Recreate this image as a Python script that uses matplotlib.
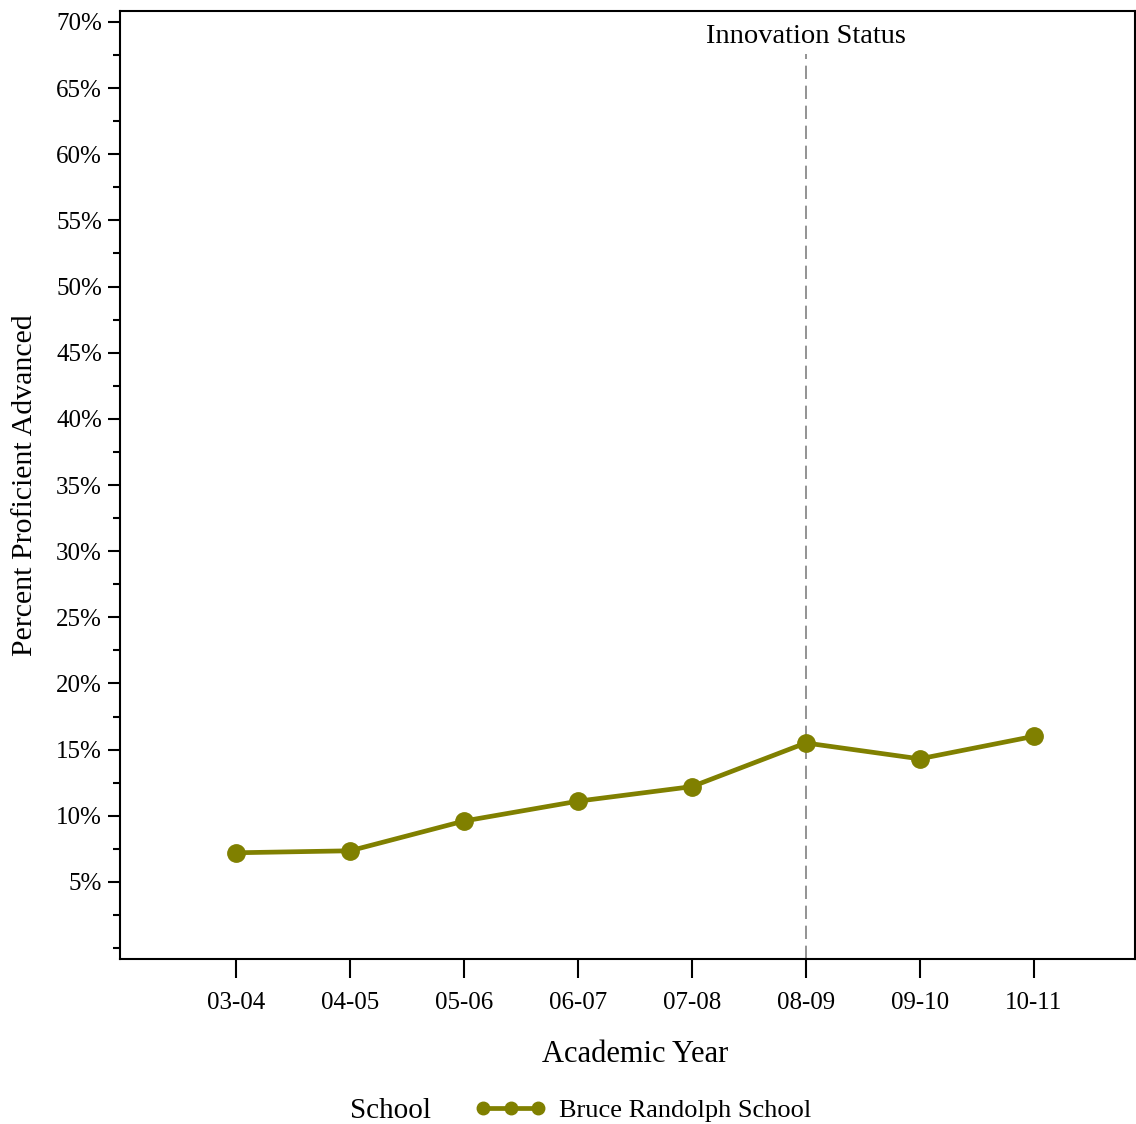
import matplotlib.pyplot as plt
from matplotlib.ticker import FixedLocator, FuncFormatter
from matplotlib.lines import Line2D

plt.rcParams['font.family'] = ['Liberation Serif', 'DejaVu Serif']

years = ['03-04', '04-05', '05-06', '06-07', '07-08', '08-09', '09-10', '10-11']
pct = [7.2, 7.35, 9.6, 11.1, 12.2, 15.5, 14.3, 16.0]
school = 'Bruce Randolph School'
innovation_year = '08-09'

color = '#808000'
W, H = 1136, 1124

fig = plt.figure(figsize=(W / 100, H / 100), dpi=100)
ax = fig.add_axes([120 / W, 1 - 959 / H, (1135 - 120) / W, (959 - 11) / H])

xs = list(range(len(years)))
ax.plot(xs, pct, color=color, lw=3.4, marker='o', ms=12.5, solid_capstyle='round')

iv = years.index(innovation_year)
ax.plot([iv, iv], [-0.83, 67.6], color='#808080', lw=1.2, ls=(0, (8, 4)), zorder=0)
ax.text(iv, 68.9, 'Innovation Status', ha='center', va='center', fontsize=20.5)

ax.set_xlim(-1.02, 7.89)
ax.set_ylim(-0.83, 70.83)
ax.set_xticks(xs)
ax.set_xticklabels(years)
ax.yaxis.set_major_locator(FixedLocator([5 * i for i in range(1, 15)]))
ax.yaxis.set_minor_locator(FixedLocator([0] + [2.5 + 5 * i for i in range(14)]))
ax.yaxis.set_major_formatter(FuncFormatter(lambda v, p: f'{v:.0f}%'))

ax.tick_params(axis='y', which='major', length=9, width=1.5, labelsize=18, pad=4)
ax.tick_params(axis='y', which='minor', length=5, width=1.5)
ax.tick_params(axis='x', which='major', length=14, width=1.5, labelsize=18, pad=10)
for s in ax.spines.values():
    s.set_linewidth(1.5)

ax.set_xlabel('Academic Year', fontsize=22)
ax.xaxis.set_label_coords((635 - 120) / (1135 - 120), -(1054 - 959) / (959 - 11))
ax.set_ylabel('Percent Proficient Advanced', fontsize=21.5)
ax.yaxis.set_label_coords(-(120 - 25) / (1135 - 120), (959 - 485) / (959 - 11))
ax.yaxis.label.set_va('center')
ax.xaxis.label.set_va('center')

fig.text(390 / W, 1 - 1111 / H, 'School', ha='center', va='center', fontsize=21)
handle = Line2D([0, 1, 2], [0, 0, 0], color=color, lw=3.4, marker='o', ms=9, markevery=[0, 1, 2])
leg = fig.legend([handle], [school], loc='center left', bbox_to_anchor=(475 / W, 1 - 1110 / H),
                 frameon=False, fontsize=19, handlelength=2.7, handletextpad=0.5, numpoints=3,
                 borderaxespad=0, borderpad=0)

fig.savefig('out.png', dpi=100)
